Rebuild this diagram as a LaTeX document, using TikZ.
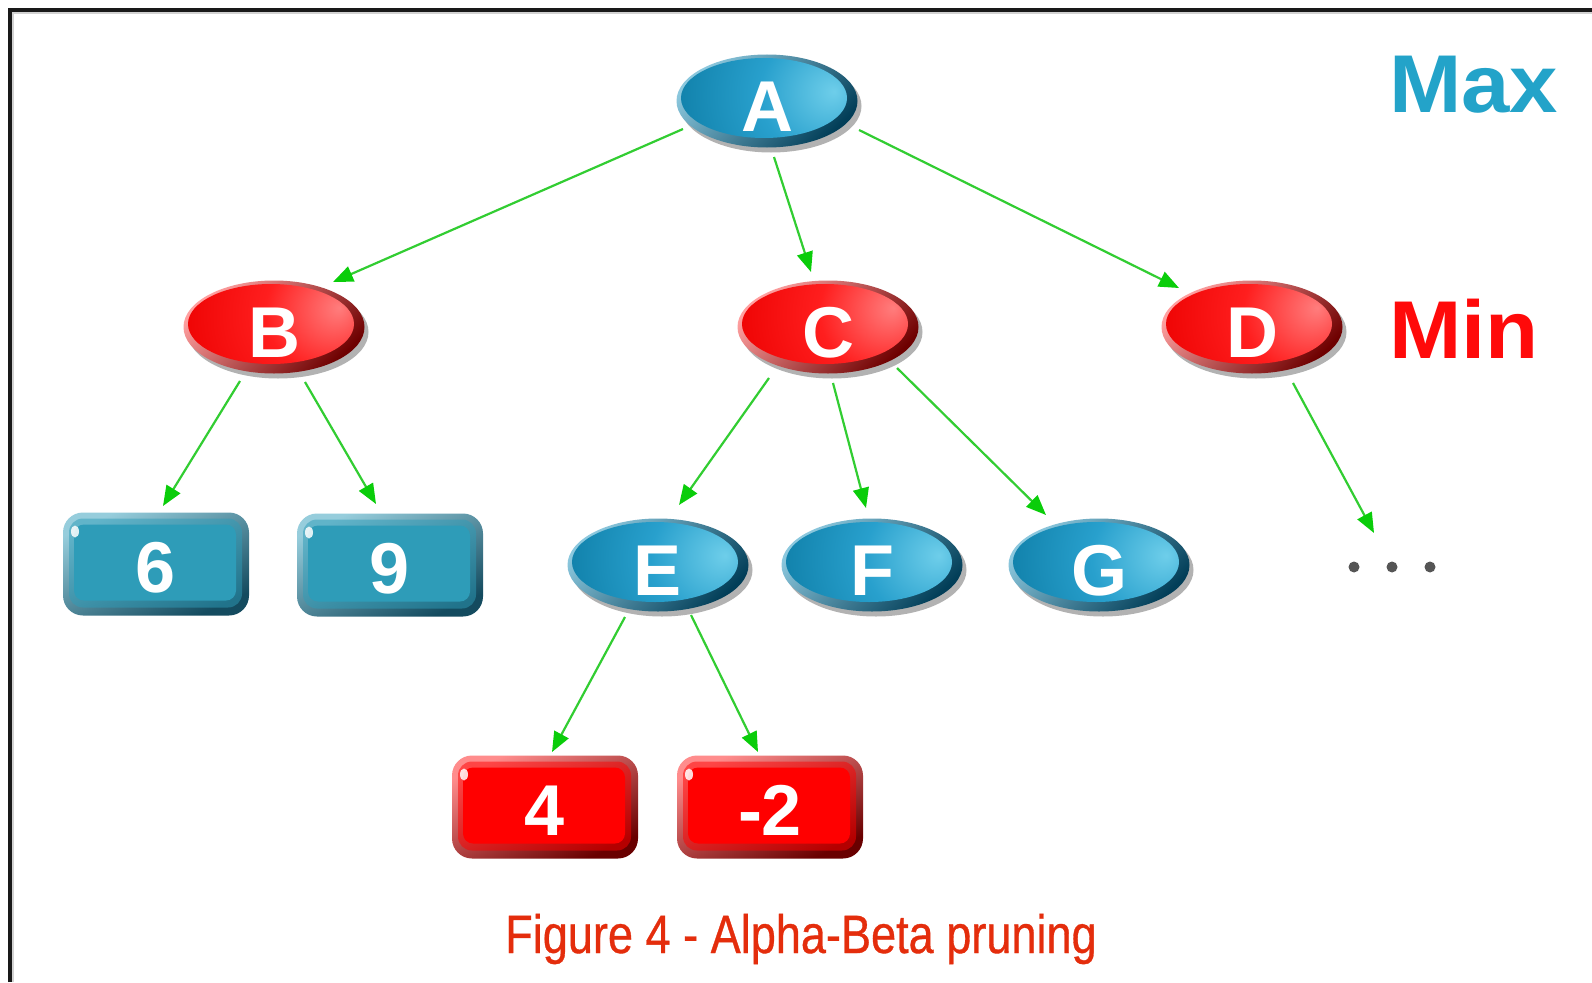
\documentclass[tikz,border=0pt]{standalone}
\usepackage{fontspec}
\setmainfont{Liberation Sans}
\newfontfamily\capfont[BoldFont={Liberation Sans},BoldFeatures={FakeBold=0.7}]{Liberation Sans}
\usetikzlibrary{shapes.geometric,shadows,arrows.meta}
\definecolor{bhi}{RGB}{110,206,234}
\definecolor{bmid}{RGB}{40,160,205}
\definecolor{bbase}{RGB}{14,125,166}
\definecolor{brimlight}{RGB}{140,200,222}
\definecolor{brimdark}{RGB}{2,62,88}
\definecolor{rhi}{RGB}{255,125,125}
\definecolor{rmid}{RGB}{255,30,30}
\definecolor{rbase}{RGB}{236,0,0}
\definecolor{rrimlight}{RGB}{255,160,160}
\definecolor{rrimdark}{RGB}{110,0,0}
\definecolor{tbody}{RGB}{46,156,184}
\definecolor{tlight}{RGB}{150,205,220}
\definecolor{tdark}{RGB}{20,75,95}
\definecolor{redbody}{RGB}{255,0,0}
\definecolor{redlight}{RGB}{255,140,140}
\definecolor{reddark}{RGB}{105,0,0}
\definecolor{edgegreen}{RGB}{50,205,50}
\definecolor{tipgreen}{RGB}{10,205,10}
\definecolor{maxblue}{RGB}{35,163,201}
\definecolor{minred}{RGB}{255,10,10}
\definecolor{capred}{RGB}{228,45,12}
\definecolor{dotgray}{RGB}{85,85,85}
\definecolor{bordblack}{RGB}{25,25,25}
\definecolor{bordgray}{RGB}{210,210,210}
\pgfdeclareradialshading{blueglow}{\pgfpoint{20bp}{-15bp}}{color(0bp)=(bhi); color(22bp)=(bmid); color(50bp)=(bbase); color(100bp)=(bbase)}
\pgfdeclareradialshading{redglow}{\pgfpoint{22bp}{-12bp}}{color(0bp)=(rhi); color(22bp)=(rmid); color(50bp)=(rbase); color(100bp)=(rbase)}
\newcommand\nodefnt{\bfseries\fontsize{72}{72}\selectfont}
\begin{document}
\begin{tikzpicture}[x=1pt,y=-1pt,
  ellbase/.style={ellipse, minimum width=181pt, minimum height=93pt, inner sep=0pt,
    text=white, font=\nodefnt, text height=60pt, text depth=0pt,
    drop shadow={shadow xshift=4pt,shadow yshift=-5pt,opacity=0.3,fill=black}},
  maxell/.style={ellbase, top color=brimlight, bottom color=brimdark, shading angle=45,
    path picture={\shade[shading=blueglow] ([shift={(-3pt,3pt)}]path picture bounding box.center) ellipse [x radius=83pt,y radius=40pt];}},
  minell/.style={ellbase, top color=rrimlight, bottom color=rrimdark, shading angle=45,
    path picture={\shade[shading=redglow] ([shift={(-3pt,3pt)}]path picture bounding box.center) ellipse [x radius=83pt,y radius=40pt];}},
  leafbox/.style={rectangle, rounded corners=20pt, minimum width=186pt, minimum height=103pt,
    inner sep=0pt, text=white, font=\nodefnt, text height=57pt, text depth=0pt},
  tealbox/.style={leafbox, top color=tlight, bottom color=tdark, shading angle=25,
    path picture={
      \fill[tbody,opacity=0.5,rounded corners=14pt] ([shift={(6pt,-6pt)}]path picture bounding box.north west) rectangle ([shift={(-7pt,8pt)}]path picture bounding box.south east);
      \fill[tbody,rounded corners=10pt] ([shift={(11pt,-12pt)}]path picture bounding box.north west) rectangle ([shift={(-13pt,15pt)}]path picture bounding box.south east);
      \fill[white,opacity=0.85] ([shift={(12pt,-19pt)}]path picture bounding box.north west) ellipse [x radius=4pt,y radius=6pt];}},
  redbox/.style={leafbox, top color=redlight, bottom color=reddark, shading angle=25,
    path picture={
      \fill[redbody,opacity=0.5,rounded corners=14pt] ([shift={(6pt,-6pt)}]path picture bounding box.north west) rectangle ([shift={(-7pt,8pt)}]path picture bounding box.south east);
      \fill[redbody,rounded corners=10pt] ([shift={(11pt,-12pt)}]path picture bounding box.north west) rectangle ([shift={(-13pt,15pt)}]path picture bounding box.south east);
      \fill[white,opacity=0.85] ([shift={(12pt,-19pt)}]path picture bounding box.north west) ellipse [x radius=4pt,y radius=6pt];}},
  edge/.style={draw=edgegreen, line width=2.2pt, -{Triangle[length=20pt,width=16pt,fill=tipgreen,color=tipgreen]}},
  dotnode/.style={circle, fill=dotgray, minimum size=11pt, inner sep=0pt},
  label/.style={font=\bfseries\fontsize{82}{82}\selectfont, anchor=base west, inner sep=0pt}
]
\useasboundingbox (0,0) rectangle (1592,982);
\fill[white] (0,0) rectangle (1592,982);
% border
\draw[line width=2.4pt, color=bordgray] (12.8,982) -- (12.8,12.8) -- (1592,12.8);
\draw[line width=3.4pt, color=bordblack] (10,982) -- (10,10) -- (1592,10);

% nodes
\node[maxell] (A) at (767,101) {A};
\node[minell] (B) at (274,327) {B};
\node[minell] (C) at (828,327) {C};
\node[minell] (D) at (1252,327) {D};
\node[maxell] (E) at (658,565) {E};
\node[maxell] (F) at (872,565) {F};
\node[maxell] (G) at (1099,565) {G};
\node[tealbox] (n6) at (156,564) {6};
\node[tealbox] (n9) at (390,565) {9};
\node[redbox] (n4) at (545,807) {4};
\node[redbox] (nm2) at (770,807) {-2};
\node[dotnode] (d1) at (1354,567) {};
\node[dotnode] (d2) at (1392,567) {};
\node[dotnode] (d3) at (1430,567) {};
\coordinate (Dend) at (1374,533);

% edges
\draw[edge] ([shift={(-84,28)}]A.center) -- ([shift={(59,-45)}]B.center);
\draw[edge] ([shift={(7,56)}]A.center) -- ([shift={(-17,-55)}]C.center);
\draw[edge] ([shift={(92,29)}]A.center) -- ([shift={(-73,-39)}]D.center);
\draw[edge] ([shift={(-34,54)}]B.center) -- ([shift={(7,-58)}]n6.center);
\draw[edge] ([shift={(31,55)}]B.center) -- ([shift={(-14,-61)}]n9.center);
\draw[edge] ([shift={(-59,51)}]C.center) -- ([shift={(21,-60)}]E.center);
\draw[edge] ([shift={(5,56)}]C.center) -- ([shift={(-6,-57)}]F.center);
\draw[edge] ([shift={(69,41)}]C.center) -- ([shift={(-53,-50)}]G.center);
\draw[edge] ([shift={(41,56)}]D.center) -- (Dend);
\draw[edge] ([shift={(-33,52)}]E.center) -- ([shift={(7,-55)}]n4.center);
\draw[edge] ([shift={(33,50)}]E.center) -- ([shift={(-12,-55)}]nm2.center);

% labels
\node[label, text=maxblue] (maxlbl) at (1389,112) {\scalebox{1.06}[1]{Max}};
\node[label, text=minred] (minlbl) at (1389,358) {\scalebox{1.06}[1]{Min}};
\node[anchor=base, inner sep=0pt, text=capred, font=\capfont\bfseries\fontsize{54}{54}\selectfont] (cap) at (801,953) {\scalebox{0.835}[1]{Figure 4 - Alpha-Beta pruning}};
\end{tikzpicture}
\end{document}
